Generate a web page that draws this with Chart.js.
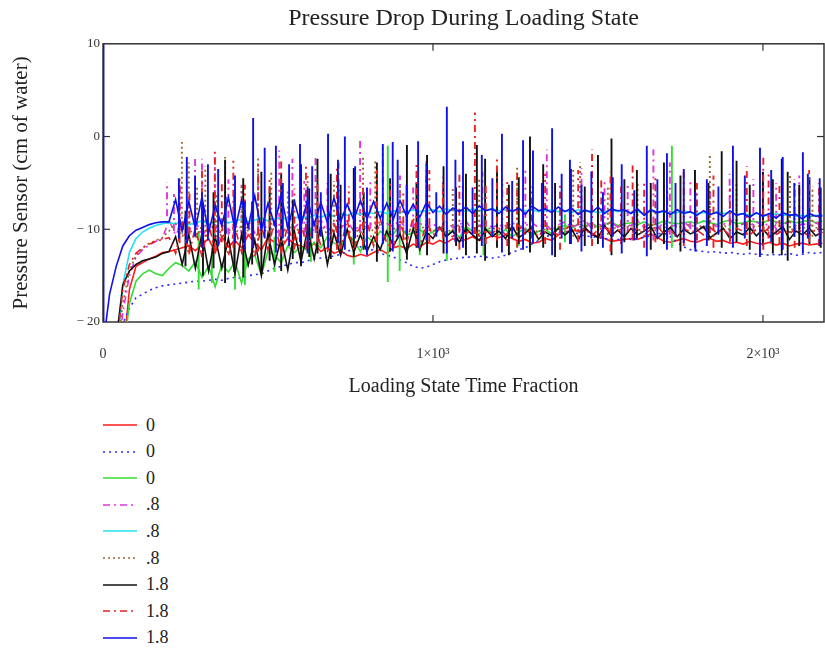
<!DOCTYPE html>
<html>
<head>
<meta charset="utf-8">
<script src="https://cdn.jsdelivr.net/npm/chart.js@4.4.1/dist/chart.umd.min.js"></script>
<style>
  body { margin: 0; background: #fff; }
  #wrap { position: relative; width: 825px; height: 653px; }
  #legend { position: absolute; left: 0; top: 0; font-family: 'Liberation Serif', 'Times New Roman', serif; font-size: 18px; color: #222; }
  .item { position: absolute; left: 103px; height: 24px; display: flex; align-items: center; }
  .item span { position: absolute; left: 43px; white-space: nowrap; }
</style>
</head>
<body>
<div id="wrap">
  <canvas id="chart" width="825" height="400"></canvas>
  <div id="legend"></div>
</div>
<script>
// loading state time fraction (x values shared by all traces)
var timeFraction = [0, 2, 20, 40, 60, 80, 100, 120, 140, 160, 180,
  200, 220, 240, 260, 280, 300, 320, 340, 360, 380,
  400, 420, 440, 460, 480, 500, 520, 540, 560, 580,
  600, 620, 640, 660, 680, 700, 720, 740, 760, 780,
  800, 820, 840, 860, 880, 900, 920, 940, 960, 980,
  1000, 1020, 1040, 1060, 1080, 1100, 1120, 1140, 1160, 1180,
  1200, 1220, 1240, 1260, 1280, 1300, 1320, 1340, 1360, 1380,
  1400, 1420, 1440, 1460, 1480, 1500, 1520, 1540, 1560, 1580,
  1600, 1620, 1640, 1660, 1680, 1700, 1720, 1740, 1760, 1780,
  1800, 1820, 1840, 1860, 1880, 1900, 1920, 1940, 1960, 1980,
  2000, 2020, 2040, 2060, 2080, 2100, 2120, 2140, 2160, 2180];

// pressure sensor readings (cm of water), running level of each trace
var red0 = [-30, -30, -30, -30, -24, -16.5, -14, -13.6, -13.2, -12.9, -12.5,
  -12.4, -12.2, -12.0, -11.8, -12.3, -11.6, -11.0, -12.5, -10.8, -11.9,
  -11.2, -12.0, -10.6, -11.5, -12.2, -10.9, -11.4, -12.0, -11.0, -11.6,
  -11.8, -12.2, -11.5, -12.4, -12.0, -12.6, -12.3, -12.8, -13.0, -12.7,
  -12.9, -12.5, -12.2, -12.6, -12.0, -11.8, -12.1, -11.6, -11.9, -11.4,
  -11.6, -11.2, -11.5, -11.0, -11.3, -11.1, -10.8, -11.2, -11.0, -10.7,
  -10.9, -10.6, -11.0, -11.3, -11.1, -11.5, -11.4, -11.0, -11.2, -10.6,
  -10.3, -10.1, -10.2, -10.0, -10.4, -10.8, -11.0, -11.3, -11.2, -11.1,
  -11.0, -11.1, -10.8, -10.5, -10.9, -11.3, -11.4, -11.2, -11.0, -11.3,
  -11.4, -11.1, -11.0, -11.3, -11.2, -11.5, -11.4, -11.6, -11.3, -11.5,
  -11.6, -11.4, -11.7, -11.5, -11.8, -11.6, -11.5, -11.7, -11.6, -11.5];

var blueDot0 = [-30, -30, -30, -27, -20.2, -18.5, -17.4, -17.0, -16.6, -16.3, -16.1,
  -16.0, -15.9, -15.8, -15.7, -15.6, -15.6, -15.5, -15.4, -15.5, -15.3,
  -15.2, -15.3, -15.0, -14.9, -14.8, -14.5, -14.2, -14.0, -13.8, -13.6,
  -13.6, -13.4, -13.2, -13.1, -13.0, -12.9, -12.7, -12.4, -12.1, -11.9,
  -12.0, -12.3, -12.6, -12.8, -13.0, -13.3, -13.6, -14.0, -14.2, -14.1,
  -13.8, -13.5, -13.3, -13.2, -13.1, -13.0, -13.0, -12.9, -13.0, -13.1,
  -13.0, -12.8, -12.5, -12.2, -12.0, -11.6, -11.2, -10.8, -10.6, -10.4,
  -10.3, -10.2, -10.5, -10.7, -10.8, -10.9, -11.0, -11.1, -11.1, -11.0,
  -11.1, -11.0, -10.9, -10.7, -10.5, -10.4, -10.8, -11.4, -11.9, -12.2,
  -12.3, -12.4, -12.5, -12.4, -12.6, -12.5, -12.6, -12.7, -12.6, -12.7,
  -12.7, -12.8, -12.7, -12.8, -12.6, -12.8, -12.7, -12.5, -12.6, -12.5];

var green0 = [-30, -30, -30, -30, -24, -18, -15.6, -14.8, -14.4, -14.8, -15.0,
  -14.2, -13.6, -13.9, -14.5, -13.5, -15.2, -14.0, -16.2, -13.8, -14.6,
  -13.5, -15.8, -13.2, -12.8, -14.9, -12.4, -12.8, -13.6, -11.8, -12.5,
  -11.9, -12.3, -11.4, -12.0, -10.8, -11.5, -11.8, -10.5, -11.2, -12.4,
  -10.8, -11.4, -10.2, -10.8, -10.5, -9.6, -10.6, -10.4, -10.0, -10.6,
  -10.3, -9.8, -10.7, -10.1, -10.9, -9.7, -10.2, -10.5, -9.9, -10.4,
  -10.6, -10.0, -10.8, -10.3, -9.9, -10.7, -10.2, -10.0, -10.5, -9.8,
  -9.6, -9.9, -9.4, -9.7, -9.3, -9.8, -9.5, -9.2, -9.6, -9.4,
  -9.3, -9.5, -9.2, -9.6, -9.4, -9.1, -9.3, -9.4, -9.3, -9.2,
  -9.4, -9.1, -9.3, -9.5, -9.2, -9.0, -9.4, -9.3, -9.1, -9.2,
  -9.3, -9.0, -9.2, -9.4, -9.1, -9.3, -9.2, -9.0, -9.3, -9.1];

var magenta08 = [-30, -30, -30, -25, -19, -15, -13, -12.2, -11.7, -11.3, -11.0,
  -9.0, -10.6, -9.4, -10.2, -9.0, -10.8, -9.6, -10.0, -9.2, -10.5,
  -9.6, -10.2, -9.0, -10.4, -9.4, -10.0, -9.2, -10.6, -9.5, -9.8,
  -9.2, -10.1, -9.6, -9.0, -10.3, -9.4, -9.9, -9.1, -10.2, -9.5,
  -9.8, -9.2, -10.0, -9.4, -9.7, -9.0, -10.1, -9.5, -9.3, -9.9,
  -9.4, -10.0, -9.2, -9.8, -9.5, -9.1, -10.2, -9.6, -9.3, -9.8,
  -9.5, -9.9, -9.2, -10.0, -9.6, -9.3, -9.8, -9.4, -10.1, -9.5,
  -9.2, -9.8, -9.5, -9.0, -9.9, -9.4, -9.7, -9.2, -9.8, -9.5,
  -9.6, -9.1, -9.8, -9.4, -9.9, -9.3, -9.7, -9.5, -9.2, -9.8,
  -9.4, -9.9, -9.3, -9.7, -9.5, -9.0, -9.8, -9.4, -9.6, -9.2,
  -9.7, -9.3, -9.9, -9.5, -9.2, -9.8, -9.4, -9.6, -9.3, -9.7];

var cyan08 = [-30, -30, -30, -24, -16, -12.5, -11, -10.3, -9.9, -9.6, -9.4,
  -9.3, -9.4, -9.2, -9.5, -9.3, -9.1, -9.4, -9.2, -9.0, -9.3,
  -9.1, -8.9, -9.2, -9.0, -8.8, -9.1, -8.9, -8.7, -9.0, -8.8,
  -8.6, -8.8, -8.5, -8.7, -8.4, -8.6, -8.3, -8.5, -8.2, -8.4,
  -8.2, -8.3, -8.1, -8.3, -8.0, -8.2, -8.1, -7.9, -8.1, -8.0,
  -7.9, -8.1, -7.8, -8.0, -7.9, -8.1, -7.8, -8.0, -7.9, -7.8,
  -8.0, -7.9, -8.1, -7.8, -8.0, -7.9, -8.1, -8.0, -7.9, -8.1,
  -8.0, -8.2, -7.9, -8.1, -8.0, -8.2, -8.1, -7.9, -8.1, -8.0,
  -8.2, -8.1, -8.3, -8.0, -8.2, -8.1, -8.3, -8.2, -8.0, -8.2,
  -8.3, -8.2, -8.4, -8.1, -8.3, -8.2, -8.4, -8.3, -8.5, -8.3,
  -8.4, -8.6, -8.3, -8.5, -8.4, -8.6, -8.5, -8.7, -8.5, -8.6];

var brown08 = [-30, -30, -30, -24, -18, -14.5, -12.8, -12, -11.5, -11.2, -10.9,
  -10.2, -9.4, -10.8, -9.8, -11.0, -9.6, -10.4, -9.2, -10.9, -10.0,
  -10.5, -9.6, -10.2, -11.0, -9.7, -10.4, -9.9, -10.8, -9.5, -10.3,
  -9.8, -10.5, -10.0, -9.4, -10.6, -10.1, -9.6, -10.3, -9.9, -10.4,
  -9.7, -10.2, -9.5, -10.4, -10.0, -9.6, -10.3, -9.8, -10.1, -9.5,
  -10.2, -9.7, -10.4, -9.9, -9.5, -10.1, -10.5, -9.6, -10.0, -9.8,
  -10.3, -9.6, -10.0, -9.4, -10.2, -9.8, -10.4, -9.5, -10.1, -9.7,
  -10.0, -9.5, -10.3, -9.8, -9.4, -10.1, -9.7, -10.2, -9.6, -9.9,
  -9.5, -10.2, -9.8, -9.4, -10.0, -9.7, -10.3, -9.6, -9.9, -9.4,
  -10.0, -9.6, -9.9, -10.3, -9.5, -10.1, -9.7, -9.4, -10.0, -9.6,
  -9.8, -10.2, -9.5, -9.9, -10.3, -9.6, -10.0, -9.4, -9.8, -10.1];

var black18 = [-30, -30, -30, -22, -16, -14.5, -13.8, -13.4, -13.2, -13.0, -12.6,
  -12.4, -10.8, -13.8, -10.6, -14.2, -10.4, -14.5, -10.8, -14.2, -11.0,
  -14.8, -10.6, -13.9, -11.2, -15.0, -10.5, -13.8, -10.9, -14.4, -10.2,
  -13.5, -10.0, -13.2, -9.6, -13.8, -10.4, -12.8, -10.0, -12.5, -10.6,
  -12.4, -10.8, -12.2, -10.2, -11.8, -10.5, -12.6, -9.9, -12.2, -10.3,
  -11.0, -9.8, -10.8, -10.2, -11.4, -9.9, -10.6, -11.2, -10.0, -10.8,
  -10.2, -11.0, -9.7, -10.9, -10.4, -9.8, -11.1, -10.3, -10.7, -9.9,
  -10.6, -10.0, -11.2, -9.8, -10.5, -10.9, -9.6, -10.7, -10.1, -10.8,
  -9.9, -10.6, -10.2, -9.7, -11.0, -10.3, -9.8, -10.8, -10.0, -10.5,
  -10.2, -9.7, -10.9, -10.4, -9.9, -11.0, -10.3, -10.6, -9.8, -10.7,
  -10.0, -10.8, -10.3, -9.7, -11.1, -10.2, -10.6, -9.9, -10.7, -10.3];

var red18 = [-30, -30, -30, -23, -16.5, -13.8, -12.6, -12.0, -11.6, -11.3, -11.1,
  -10.9, -12.6, -9.4, -12.8, -9.8, -13.0, -9.2, -12.6, -9.6, -12.9,
  -9.8, -12.5, -9.3, -12.9, -9.7, -12.2, -9.0, -12.6, -9.5, -12.0,
  -9.4, -12.2, -9.1, -11.8, -12.5, -9.2, -11.9, -9.0, -12.3, -9.5,
  -9.2, -11.8, -8.8, -11.6, -12.0, -9.1, -11.5, -8.7, -11.9, -9.3,
  -10.6, -9.9, -10.4, -10.8, -10.0, -10.5, -9.8, -10.7, -10.2, -10.4,
  -9.9, -10.6, -10.1, -9.6, -10.5, -10.0, -10.8, -9.8, -10.3, -10.6,
  -10.0, -9.6, -10.4, -9.9, -10.7, -10.1, -9.7, -10.5, -10.2, -9.8,
  -10.4, -9.9, -10.6, -10.0, -9.7, -10.5, -10.1, -10.8, -9.9, -10.3,
  -10.1, -10.6, -9.8, -10.4, -10.0, -10.7, -9.9, -10.2, -10.6, -10.0,
  -10.4, -9.8, -10.6, -10.1, -10.5, -9.9, -10.3, -10.7, -10.0, -10.4];

var blue18 = [10, -22, -17, -14, -11.8, -10.7, -10.1, -9.8, -9.5, -9.3, -9.2,
  -9.2, -6.8, -10.2, -7.0, -9.9, -6.5, -10.4, -7.4, -9.6, -6.6,
  -10.0, -6.9, -9.8, -6.4, -10.1, -7.2, -9.5, -6.3, -9.9, -7.0,
  -9.6, -6.8, -9.5, -7.1, -9.3, -6.6, -9.2, -7.3, -9.0, -6.9,
  -8.9, -7.0, -8.8, -7.2, -8.9, -6.9, -8.6, -7.3, -8.7, -7.1,
  -8.2, -7.5, -8.4, -7.7, -8.1, -7.6, -8.3, -7.5, -8.0, -7.8,
  -8.3, -7.6, -8.1, -7.7, -8.4, -7.5, -8.0, -7.8, -8.2, -7.6,
  -8.1, -7.7, -8.4, -7.9, -8.2, -7.6, -8.3, -7.8, -8.0, -7.9,
  -8.3, -7.8, -8.5, -7.9, -8.2, -8.0, -8.4, -7.9, -8.3, -8.1,
  -8.5, -8.0, -8.4, -8.2, -8.6, -8.0, -8.5, -8.3, -8.7, -8.2,
  -8.6, -8.3, -8.8, -8.2, -8.5, -8.4, -8.9, -8.3, -8.6, -8.5];

// sharp excursions of each trace: [time fraction, from, to]
var green0Spikes = [[290, -10.2, -16.5], [330, -12, -15.8], [400, -11.5, -16.5], [430, -11.8, -16],
  [520, -10.8, -14.6], [630, -9.8, -13.5], [760, -10, -13.8], [863, -1, -15.7], [899, -9.4, -14.5],
  [960, -8.8, -12.8], [1042, -9.2, -13.4], [1153, -8.6, -12.8], [1260, -9, -11.8], [1400, -8.4, -11.4],
  [1724, -1, -12], [1900, -8.6, -11]];

var magenta08Spikes = [[194, -8.6, -4.9], [215, -10.2, -6.2], [233, -9.8, -5.2], [279, -10.5, -2.2],
  [300, -11, -2.4], [339, -10.2, -2.2], [380, -10.6, -4.6], [420, -11, -5.2], [470, -10.4, -4],
  [534, -10.8, -1.5], [574, -10.2, -2.4], [610, -10.6, -4.8], [644, -10.4, -2.2], [680, -10, -5],
  [714, -10.8, -2.8], [779, -10.4, -0.2], [810, -10, -4.5], [848, -10.6, -1.2], [900, -10.2, -4.2],
  [940, -9.8, -5.5], [980, -10.5, -2.6], [1030, -10, -4.4], [1090, -10.4, -5.2], [1150, -9.8, -3.8],
  [1210, -10.2, -4.6], [1280, -10.6, -3.4], [1345, -10, -1.4], [1415, -10.4, -3.4], [1450, -10.8, -3.4],
  [1520, -10, -4.6], [1590, -10.4, -5.2], [1668, -11.2, -1.4], [1718, -10.6, -2.8], [1780, -10, -4.8],
  [1840, -10.4, -5.6], [1899, -10.8, -4], [1971, -10.2, -4.6], [2040, -10.6, -5], [2110, -10, -4.2],
  [2172, -10.4, -5.8]];

var cyan08Spikes = [];

var brown08Spikes = [[239, -9.4, -0.6], [260, -11, -2.8], [285, -10.6, -5.5], [310, -10.8, -3.2],
  [345, -11.4, -6], [370, -11, -2.2], [420, -10.4, -5.4], [470, -11.2, -2.2], [510, -10.6, -3.8],
  [560, -11, -5.6], [620, -10.4, -4], [700, -10.8, -4.8], [788, -10.6, -2.2], [825, -11, -2.6],
  [900, -10.4, -5], [980, -10.8, -4.2], [1060, -10.2, -5.5], [1140, -10.8, -4.4], [1255, -10.6, -3.2],
  [1330, -10.2, -5], [1425, -10.8, -3.6], [1446, -10.4, -2.8], [1530, -10.6, -5.4], [1620, -10.2, -4.8],
  [1700, -10.8, -5.2], [1839, -10.4, -2], [1920, -10.2, -5], [2000, -10.6, -4.6], [2082, -10.4, -4],
  [2150, -10.8, -5.4]];

var black18Spikes = [[250, -14, -8], [303, -15, -7.5], [335, -14.2, -6], [370, -15.8, -2.5],
  [398, -14.6, -6.2], [425, -15.2, -4.5], [452, -13.8, -7], [480, -14.8, -3.8], [505, -13.4, -5.5],
  [540, -14.5, -4], [575, -13.2, -6.8], [600, -14, -3], [625, -13, -5.6], [650, -12.6, -2.4],
  [690, -13.2, -4], [720, -12.4, -5.2], [760, -13, -3.4], [790, -12.2, -6], [830, -13.5, -2.8],
  [870, -12.4, -4.5], [921, -13.3, -0.9], [950, -12, -5], [982, -12.8, -2], [1032, -12.6, -3.2],
  [1070, -11.8, -5.5], [1100, -12.8, -4], [1133, -12.6, -0.9], [1158, -13.4, -2.4], [1194, -12, -3.6],
  [1230, -12.8, -5.2], [1260, -11.6, -4.4], [1294, -12.5, 0], [1334, -12, -3], [1370, -13, -5],
  [1418, -11.6, -3.5], [1460, -11.8, -5.4], [1500, -11.6, -2], [1541, -12.8, -0.2], [1580, -11.4, -4.6],
  [1618, -11, -3.6], [1660, -12.2, -5], [1700, -11.6, -2.8], [1750, -12.4, -4.2], [1794, -12, -3.6],
  [1835, -11.2, -5], [1875, -12, -1.6], [1920, -11.4, -2.6], [1960, -12.2, -5.2], [2000, -11.8, -3.8],
  [2030, -12.6, -4.6], [2057, -12.8, -2.4], [2075, -13.4, -3.8], [2110, -11.8, -5.2], [2141, -11.6, -4.4],
  [2175, -12, -5.5]];

var red18Spikes = [[232, -11.5, -4.2], [262, -12.4, -6], [300, -11.8, -3.4], [339, -12.2, -1.6],
  [360, -11.4, -4.8], [395, -12, -2.6], [430, -11.2, -5.2], [470, -12.4, -3], [505, -11.6, -4.4],
  [540, -12.6, -2.4], [580, -11.2, -5.6], [615, -12, -3.2], [650, -11.4, -4.6], [709, -12.2, -3.4],
  [745, -11, -5.4], [788, -11.8, -5], [830, -11.4, -3.6], [870, -12, -4.8], [910, -11.2, -6],
  [950, -11.8, -3], [989, -11.4, -3.6], [1030, -11, -5.2], [1080, -12.2, -4], [1127, -10.5, 2.6],
  [1160, -11.6, -5], [1194, -11.2, -2.2], [1225, -11.8, -4.6], [1255, -12, -3.6], [1300, -11, -5.4],
  [1340, -11.6, -4], [1385, -12.2, -5], [1440, -11.4, -3.6], [1482, -11.8, -1.4], [1510, -11, -4.4],
  [1538, -12.4, -3.8], [1570, -11.6, -5.4], [1605, -11.2, -2.8], [1640, -12, -4.8], [1674, -11.4, -4.4],
  [1710, -11, -5.6], [1760, -11.8, -3.8], [1800, -11.2, -5], [1850, -12, -4.2], [1900, -11.4, -5.6],
  [1951, -11.8, -3.2], [2001, -12.2, -2.2], [2017, -11, -4], [2050, -11.6, -5.2], [2096, -12, -4.6],
  [2140, -11.4, -3.6], [2170, -11.8, -5]];

var blue18Spikes = [[230, -11, -4.5], [254, -11.5, -2.2], [279, -10.8, -4.2], [300, -12, -6],
  [318, -11.2, -3], [349, -11.8, -3.5], [372, -10.5, -6.5], [400, -11.5, -4.2], [430, -12.2, -7],
  [455, -12, 2.0], [490, -11, -1.2], [524, -12.5, -1.0], [545, -11, -5], [564, -11.8, -3],
  [597, -11.4, -0.8], [620, -12.6, -5.5], [634, -11, -3.2], [660, -10.8, -6], [682, -12, 0.3],
  [712, -11.5, -2.5], [733, -12.2, 0], [764, -11, -3.2], [800, -12.8, -5.5], [848, -11.6, -0.8],
  [878, -12.4, -0.6], [893, -11, -2.5], [920, -10.5, -5.2], [955, -12, -0.5], [980, -11.2, -3],
  [1010, -10.8, -6], [1042, -12.6, 3.2], [1068, -11.4, -2.5], [1091, -12, -0.5], [1120, -10.6, -5.5],
  [1148, -11.8, -2], [1180, -10.8, -4.5], [1209, -12.5, 0.3], [1240, -11, -4.8], [1273, -12.2, -0.4],
  [1303, -11.5, -1.5], [1330, -10.6, -5], [1361, -12.8, 0.9], [1390, -11, -4], [1415, -11.6, -2.5],
  [1450, -12.4, -5.2], [1480, -11, -3.8], [1515, -12, -6], [1545, -10.8, -4.4], [1572, -12.6, -3],
  [1610, -11.2, -5.8], [1648, -12.9, -1], [1680, -11, -4.6], [1709, -12.2, -1.8], [1735, -10.8, -5],
  [1760, -11.5, -3.5], [1795, -12.4, -6], [1830, -11.8, -4.6], [1865, -10.6, -5.4], [1909, -12, -1.0],
  [1945, -11, -4.2], [1991, -13, -1.2], [2025, -11.4, -3.6], [2060, -12.2, -2.2], [2095, -10.8, -5],
  [2121, -12.6, -1.7], [2136, -11, -4], [2172, -11.8, -4.5]];

var seriesLabels = ['0', '0', '0', '.8', '.8', '.8', '1.8', '1.8', '1.8'];
var xTickValues = [0, 1000, 2000];
var yTickValues = [-20, -10, 0, 10];

var serifFont = "'Liberation Serif', 'Times New Roman', serif";

var traces = [
  { values: red0,      spikes: [],              color: '#ff1a1a', dash: [] },
  { values: blueDot0,  spikes: [],              color: '#2b2bff', dash: [2, 4] },
  { values: green0,    spikes: green0Spikes,    color: '#33dd33', dash: [] },
  { values: magenta08, spikes: magenta08Spikes, color: '#e033e0', dash: [7, 4, 2, 4] },
  { values: cyan08,    spikes: cyan08Spikes,    color: '#22e0f0', dash: [] },
  { values: brown08,   spikes: brown08Spikes,   color: '#9a6a2a', dash: [2, 3] },
  { values: black18,   spikes: black18Spikes,   color: '#111111', dash: [] },
  { values: red18,     spikes: red18Spikes,     color: '#e82020', dash: [7, 4, 2, 4] },
  { values: blue18,    spikes: blue18Spikes,    color: '#1010e8', dash: [] }
];

var datasets = [];
traces.forEach(function(t, i) {
  var layer = (traces.length - 1 - i) * 2;   // later traces on top, like the original
  datasets.push({
    label: seriesLabels[i],
    data: timeFraction.map(function(x, j) { return { x: x, y: t.values[j] }; }),
    borderColor: t.color,
    borderDash: t.dash,
    borderWidth: 1.6,
    pointRadius: 0,
    tension: 0,
    order: layer + 1
  });
  // vertical excursions, separated by gaps
  var segs = [];
  t.spikes.forEach(function(s) {
    segs.push({ x: s[0], y: s[1] }, { x: s[0], y: s[2] }, { x: s[0], y: null });
  });
  datasets.push({
    label: seriesLabels[i],
    data: segs,
    borderColor: t.color,
    borderDash: t.dash,
    borderWidth: 1.9,
    pointRadius: 0,
    spanGaps: false,
    order: layer
  });
});

// frame and small inward tick marks
var framePlugin = {
  id: 'frame',
  beforeDatasetsDraw: function(chart) {
    var ctx = chart.ctx, a = chart.chartArea;
    var xs = chart.scales.x, ys = chart.scales.y;
    function seg(x1, y1, x2, y2) { ctx.beginPath(); ctx.moveTo(x1, y1); ctx.lineTo(x2, y2); ctx.stroke(); }
    ctx.save();
    ctx.strokeStyle = '#333';
    ctx.lineWidth = 1.5;
    ctx.strokeRect(a.left, a.top, a.right - a.left, a.bottom - a.top);
    ctx.lineWidth = 1.2;
    xTickValues.slice(1).forEach(function(v) {
      var px = xs.getPixelForValue(v);
      seg(px, a.top, px, a.top + 7);
      seg(px, a.bottom, px, a.bottom - 7);
    });
    [0, -10].forEach(function(v) {
      var py = ys.getPixelForValue(v);
      seg(a.left, py, a.left + 7, py);
      seg(a.right, py, a.right - 7, py);
    });
    ctx.restore();
  }
};

new Chart(document.getElementById('chart'), {
  type: 'line',
  data: { datasets: datasets },
  options: {
    responsive: false,
    animation: false,
    layout: { padding: { left: 0, right: 1, top: 0, bottom: 0 } },
    plugins: {
      legend: { display: false },
      tooltip: { enabled: false },
      title: {
        display: true,
        fullSize: false,
        text: 'Pressure Drop During Loading State',
        color: '#222',
        font: { family: serifFont, size: 24, weight: 'normal' },
        padding: { top: 4, bottom: 11 }
      }
    },
    scales: {
      x: {
        type: 'linear',
        min: 0,
        max: 2185,
        afterBuildTicks: function(scale) { scale.ticks = xTickValues.map(function(v) { return { value: v }; }); },
        afterFit: function(scale) { scale.height = 78; },
        grid: { display: false, drawTicks: false },
        border: { display: false },
        ticks: {
          padding: 24,
          color: '#333',
          font: { family: serifFont, size: 14 },
          callback: function(v) { return v === 0 ? '0' : (v / 1000) + '\u00d710\u00b3'; }
        },
        title: {
          display: true,
          text: 'Loading State Time Fraction',
          color: '#222',
          font: { family: serifFont, size: 20 },
          padding: { top: 0, bottom: 1 }
        }
      },
      y: {
        min: -20,
        max: 10,
        afterBuildTicks: function(scale) { scale.ticks = yTickValues.map(function(v) { return { value: v }; }); },
        afterFit: function(scale) { scale.width = 103; },
        grid: { display: false, drawTicks: false },
        border: { display: false },
        ticks: {
          padding: 3,
          color: '#333',
          font: { family: serifFont, size: 13 },
          callback: function(v) { return v < 0 ? '\u2212 ' + Math.abs(v) : String(v); }
        },
        title: {
          display: true,
          text: 'Pressure Sensor (cm of water)',
          color: '#222',
          font: { family: serifFont, size: 21 },
          padding: { top: 9, bottom: 0 }
        }
      }
    }
  },
  plugins: [framePlugin]
});

// legend below the plot, one row per trace
var legend = document.getElementById('legend');
traces.forEach(function(t, i) {
  var row = document.createElement('div');
  row.className = 'item';
  row.style.top = (413 + i * 26.6) + 'px';
  var dash = t.dash.length ? ' stroke-dasharray="' + t.dash.join(' ') + '"' : '';
  row.innerHTML = '<svg width="36" height="24"><line x1="0" y1="12" x2="34" y2="12" stroke="' + t.color +
    '" stroke-width="1.6"' + dash + '/></svg><span>' + seriesLabels[i] + '</span>';
  legend.appendChild(row);
});
</script>
</body>
</html>
